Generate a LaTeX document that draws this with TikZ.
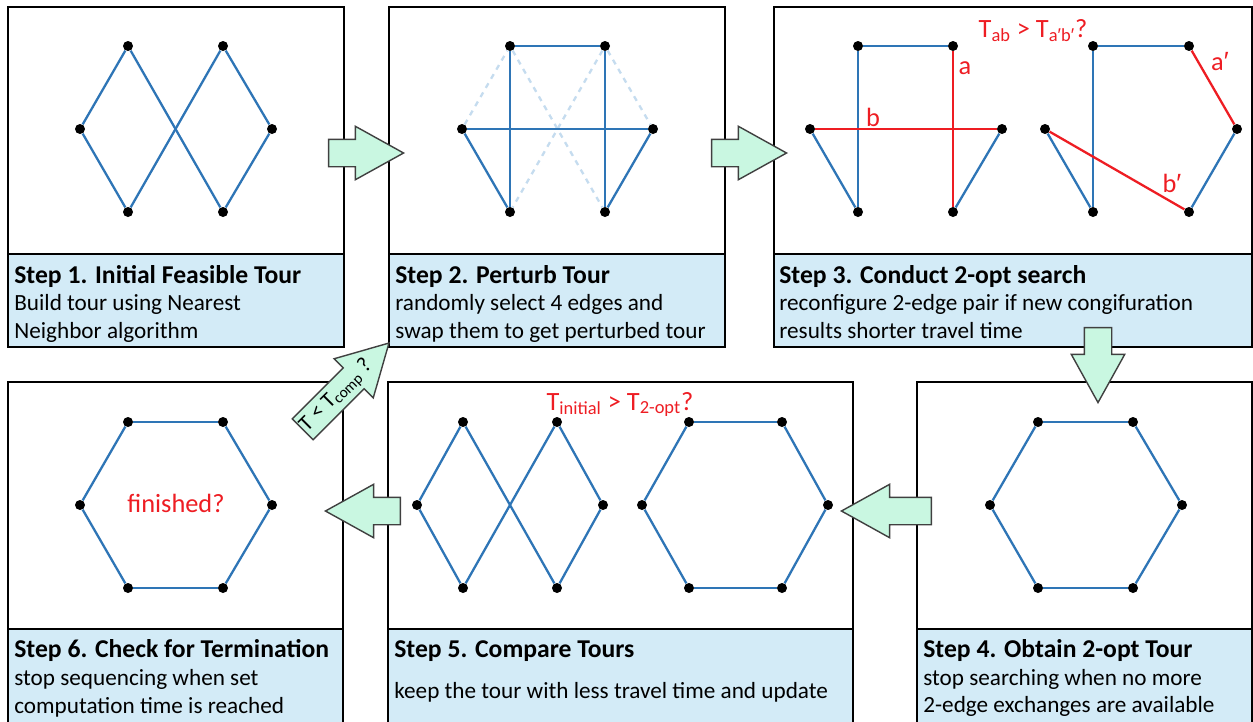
\documentclass[tikz,border=0pt]{standalone}
\usepackage{fontspec}
\setmainfont{Carlito}
\newfontfamily\primefont{Liberation Sans}
\usepackage{tikz}
\usetikzlibrary{shapes.arrows}
\definecolor{tourblue}{HTML}{2E75B6}
\definecolor{swapred}{HTML}{EE1D23}
\definecolor{capblue}{HTML}{D3EBF7}
\definecolor{mint}{HTML}{C9F7E1}
\definecolor{fadeblue}{HTML}{C5DCEF}
\newcommand{\pr}{{\primefont ′}}
\tikzstyle{panel} = [draw=black, line width=1.2pt, fill=white]
\tikzstyle{caption} = [draw=black, line width=1.2pt, fill=capblue]
\tikzstyle{title} = [font=\fontsize{14.6}{17}\selectfont\bfseries, anchor=base west, inner sep=0pt]
\tikzstyle{desc} = [font=\fontsize{13.2}{15.9}\selectfont, anchor=base west, inner sep=0pt]
\tikzstyle{vertex} = [circle, fill=black, inner sep=0pt, minimum size=0.2cm]
\tikzstyle{edge} = [draw=tourblue, line width=1.3pt]
\tikzstyle{swap} = [draw=swapred, line width=1.3pt]
\tikzstyle{faint} = [draw=fadeblue, line width=1.3pt, dashed]
\tikzstyle{note} = [font=\fontsize{15}{17}\selectfont, text=swapred, inner sep=0pt]
\tikzstyle{flow} = [single arrow, draw=black!75, fill=mint, line width=0.8pt, minimum width=1.04cm, minimum height=1.5cm, single arrow head extend=0.26cm, single arrow tip angle=58, inner xsep=0pt, inner ysep=0.26cm, font=\fontsize{12.5}{14}\selectfont]

\begin{document}
\begin{tikzpicture}[x=0.02cm, y=-0.02cm]
  \useasboundingbox (0,0) rectangle (1253,721);
  % panels, top row
  \draw[panel] (8,7) rectangle (344,347);
  \draw[caption] (8,254) rectangle (344,347);
  \draw[panel] (389,7) rectangle (725,347);
  \draw[caption] (389,254) rectangle (725,347);
  \draw[panel] (774,7) rectangle (1252,347);
  \draw[caption] (774,254) rectangle (1252,347);
  % panels, bottom row
  \draw[panel] (8,382) rectangle (343,728);
  \draw[caption] (8,629) rectangle (343,728);
  \draw[panel] (388,382) rectangle (853,728);
  \draw[caption] (388,629) rectangle (853,728);
  \draw[panel] (917,382) rectangle (1252,728);
  \draw[caption] (917,629) rectangle (1252,728);

  % captions
  \node (step1_title) [title] at (14,283) {Step 1. Initial Feasible Tour};
  \node (step1_line1) [desc] at (14,310) {Build tour using Nearest};
  \node (step1_line2) [desc] at (14,338) {Neighbor algorithm};
  \node (step2_title) [title] at (395,283) {Step 2. Perturb Tour};
  \node (step2_line1) [desc] at (395,310) {randomly select 4 edges and};
  \node (step2_line2) [desc] at (395,338) {swap them to get perturbed tour};
  \node (step3_title) [title] at (779,283) {Step 3. Conduct 2-opt search};
  \node (step3_line1) [desc] at (779,310) {reconfigure 2-edge pair if new congifuration};
  \node (step3_line2) [desc] at (779,338) {results shorter travel time};
  \node (step4_title) [title] at (923,657) {Step 4. Obtain 2-opt Tour};
  \node (step4_line1) [desc] at (923,685) {stop searching when no more};
  \node (step4_line2) [desc] at (923,712) {2-edge exchanges are available};
  \node (step5_title) [title] at (394,657) {Step 5. Compare Tours};
  \node (step5_line1) [desc] at (394,698) {keep the tour with less travel time and update};
  \node (step6_title) [title] at (14,657) {Step 6. Check for Termination};
  \node (step6_line1) [desc] at (14,685) {stop sequencing when set};
  \node (step6_line2) [desc] at (14,713) {computation time is reached};

  % step 1: initial tour
  \node (p1_tl) [vertex] at (128,46) {};
  \node (p1_tr) [vertex] at (223,46) {};
  \node (p1_l) [vertex] at (80,129) {};
  \node (p1_r) [vertex] at (272,129) {};
  \node (p1_bl) [vertex] at (128,212) {};
  \node (p1_br) [vertex] at (223,212) {};
  \draw[edge] (p1_l) -- (p1_tl);
  \draw[edge] (p1_tl) -- (p1_br);
  \draw[edge] (p1_br) -- (p1_r);
  \draw[edge] (p1_r) -- (p1_tr);
  \draw[edge] (p1_tr) -- (p1_bl);
  \draw[edge] (p1_bl) -- (p1_l);

  % step 2: perturbed tour
  \node (p2_tl) [vertex] at (510,46) {};
  \node (p2_tr) [vertex] at (605,46) {};
  \node (p2_l) [vertex] at (462,129) {};
  \node (p2_r) [vertex] at (653,129) {};
  \node (p2_bl) [vertex] at (510,212) {};
  \node (p2_br) [vertex] at (605,212) {};
  \draw[faint] (p2_l) -- (p2_tl);
  \draw[faint] (p2_tl) -- (p2_br);
  \draw[faint] (p2_tr) -- (p2_bl);
  \draw[faint] (p2_tr) -- (p2_r);
  \draw[edge] (p2_tl) -- (p2_tr);
  \draw[edge] (p2_tl) -- (p2_bl);
  \draw[edge] (p2_tr) -- (p2_br);
  \draw[edge] (p2_l) -- (p2_r);
  \draw[edge] (p2_l) -- (p2_bl);
  \draw[edge] (p2_r) -- (p2_br);

  % step 3: 2-opt exchange
  \node (p3_tl) [vertex] at (858,46) {};
  \node (p3_tr) [vertex] at (953,46) {};
  \node (p3_l) [vertex] at (810,129) {};
  \node (p3_r) [vertex] at (1002,129) {};
  \node (p3_bl) [vertex] at (858,212) {};
  \node (p3_br) [vertex] at (953,212) {};
  \draw[edge] (p3_tl) -- (p3_tr);
  \draw[edge] (p3_tl) -- (p3_bl);
  \draw[edge] (p3_l) -- (p3_bl);
  \draw[edge] (p3_r) -- (p3_br);
  \draw[swap] (p3_tr) -- (p3_br);
  \draw[swap] (p3_l) -- (p3_r);
  \node (lbl_a) [note] at (965,68) {a};
  \node (lbl_b) [note] at (873,117) {b};
  \node (q3_tl) [vertex] at (1093,46) {};
  \node (q3_tr) [vertex] at (1189,46) {};
  \node (q3_l) [vertex] at (1045,129) {};
  \node (q3_r) [vertex] at (1237,129) {};
  \node (q3_bl) [vertex] at (1093,212) {};
  \node (q3_br) [vertex] at (1189,212) {};
  \draw[edge] (q3_tl) -- (q3_tr);
  \draw[edge] (q3_tl) -- (q3_bl);
  \draw[edge] (q3_l) -- (q3_bl);
  \draw[edge] (q3_r) -- (q3_br);
  \draw[swap] (q3_tr) -- (q3_r);
  \draw[swap] (q3_l) -- (q3_br);
  \node (lbl_a2) [note] at (1220,62) {a\pr};
  \node (lbl_b2) [note] at (1172,183) {b\pr};
  \node (cmp3) [note, anchor=base] at (1033,37) {T\textsubscript{ab} > T\textsubscript{a\pr b\pr}?};

  % step 4: 2-opt tour
  \node (p4_tl) [vertex] at (1038,422) {};
  \node (p4_tr) [vertex] at (1133,422) {};
  \node (p4_l) [vertex] at (990,505) {};
  \node (p4_r) [vertex] at (1182,505) {};
  \node (p4_bl) [vertex] at (1038,588) {};
  \node (p4_br) [vertex] at (1133,588) {};
  \draw[edge] (p4_tl) -- (p4_tr);
  \draw[edge] (p4_tr) -- (p4_r);
  \draw[edge] (p4_r) -- (p4_br);
  \draw[edge] (p4_br) -- (p4_bl);
  \draw[edge] (p4_bl) -- (p4_l);
  \draw[edge] (p4_l) -- (p4_tl);

  % step 5: compare both tours
  \node (p5_tl) [vertex] at (463,422) {};
  \node (p5_tr) [vertex] at (557,422) {};
  \node (p5_l) [vertex] at (417,505) {};
  \node (p5_r) [vertex] at (603,505) {};
  \node (p5_bl) [vertex] at (463,588) {};
  \node (p5_br) [vertex] at (557,588) {};
  \draw[edge] (p5_l) -- (p5_tl);
  \draw[edge] (p5_tl) -- (p5_br);
  \draw[edge] (p5_br) -- (p5_r);
  \draw[edge] (p5_r) -- (p5_tr);
  \draw[edge] (p5_tr) -- (p5_bl);
  \draw[edge] (p5_bl) -- (p5_l);
  \node (q5_tl) [vertex] at (689,422) {};
  \node (q5_tr) [vertex] at (782,422) {};
  \node (q5_l) [vertex] at (642,505) {};
  \node (q5_r) [vertex] at (828,505) {};
  \node (q5_bl) [vertex] at (689,588) {};
  \node (q5_br) [vertex] at (782,588) {};
  \draw[edge] (q5_tl) -- (q5_tr);
  \draw[edge] (q5_tr) -- (q5_r);
  \draw[edge] (q5_r) -- (q5_br);
  \draw[edge] (q5_br) -- (q5_bl);
  \draw[edge] (q5_bl) -- (q5_l);
  \draw[edge] (q5_l) -- (q5_tl);
  \node (cmp5) [note, anchor=base] at (620,410) {T\textsubscript{initial} > T\textsubscript{2-opt}?};

  % step 6: termination check
  \node (p6_tl) [vertex] at (128,422) {};
  \node (p6_tr) [vertex] at (223,422) {};
  \node (p6_l) [vertex] at (80,505) {};
  \node (p6_r) [vertex] at (272,505) {};
  \node (p6_bl) [vertex] at (128,588) {};
  \node (p6_br) [vertex] at (223,588) {};
  \draw[edge] (p6_tl) -- (p6_tr);
  \draw[edge] (p6_tr) -- (p6_r);
  \draw[edge] (p6_r) -- (p6_br);
  \draw[edge] (p6_br) -- (p6_bl);
  \draw[edge] (p6_bl) -- (p6_l);
  \draw[edge] (p6_l) -- (p6_tl);
  \node (done) [note, anchor=base] at (176,512) {finished?};

  % block arrows between steps
  \node (flow_12) [flow, anchor=tip] at (405,153) {};
  \node (flow_23) [flow, anchor=tip] at (788,153) {};
  \node (flow_34) [flow, anchor=tip, rotate=-90] at (1098,404) {};
  \node (flow_45) [flow, anchor=tip, rotate=180, minimum height=1.8cm] at (840,511) {};
  \node (flow_56) [flow, anchor=tip, rotate=180] at (324,511) {};
  \node (flow_62) [flow, anchor=tip, rotate=45, minimum height=2.44cm, text height=0.28cm, text depth=0.08cm, inner ysep=0.1cm] at (390,342) {T < T\textsubscript{comp} ?};
\end{tikzpicture}
\end{document}
